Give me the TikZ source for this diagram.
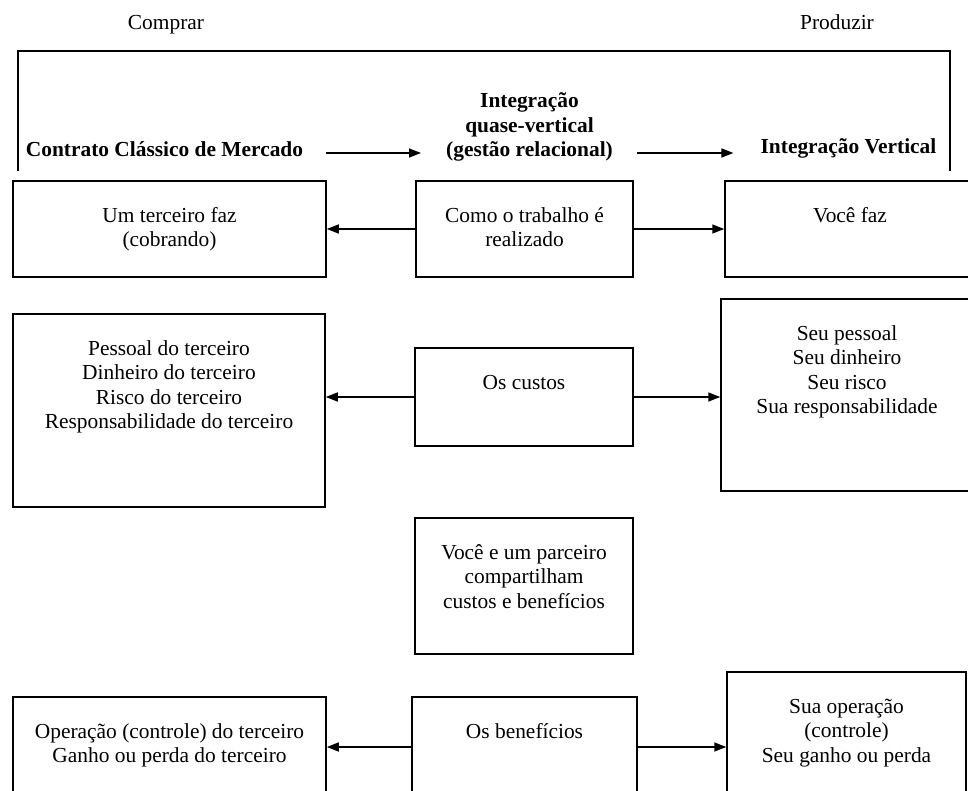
\documentclass[tikz,border=0pt]{standalone}
\usepackage{fontspec}
\setmainfont{Liberation Serif}
\usetikzlibrary{arrows.meta}
\begin{document}
\begin{tikzpicture}[x=1pt, y=-1pt,
    txt/.style={font=\fontsize{21.4}{24.5}\selectfont, align=center, inner sep=0pt, anchor=base},
    hd/.style={txt, font=\fontsize{21.4}{24.5}\selectfont\bfseries},
    box/.style={draw, line width=1.5pt, inner sep=0pt},
    arr/.style={line width=1.5pt, -{Triangle[length=12pt,width=9pt]}}]
    \useasboundingbox (0,0) rectangle (968,791);
    \clip (0,0) rectangle (968,791);
    % topo (base = ultima linha)
    \node[txt] (comprar) at (166,30) {Comprar};
    \node[txt] (produzir) at (837,30) {Produzir};
    \draw[line width=1.5pt] (18,171) -- (18,51) -- (950,51) -- (950,171);
    \node[hd] (contrato) at (164.5,157) {Contrato Clássico de Mercado};
    \node[hd] (quase) at (529.5,157) {Integração\\quase-vertical\\(gestão relacional)};
    \node[hd] (vertical) at (848.5,154) {Integração Vertical};
    \draw[arr] ([xshift=23pt,yshift=4pt]contrato.base east) -- ([xshift=-25pt,yshift=4pt]contrato.base east -| quase.west);
    \draw[arr] ([xshift=24pt,yshift=4pt]contrato.base east -| quase.east) -- ([xshift=-27pt,yshift=4pt]contrato.base east -| vertical.west);
    % como o trabalho e realizado
    \node[box, minimum width=313pt, minimum height=96pt] (terceiro) at (169.5,229) {};
    \node[box, minimum width=217pt, minimum height=96pt] (trabalho) at (524.5,229) {};
    \node[box, minimum width=250pt, minimum height=96pt] (voce) at (850,229) {};
    \node[txt] (terceirotxt) at ([yshift=-66.5pt]terceiro.north) {Um terceiro faz\\(cobrando)};
    \node[txt] (trabalhotxt) at ([yshift=-66.5pt]trabalho.north) {Como o trabalho é\\realizado};
    \node[txt] (vocetxt) at ([yshift=-42pt]voce.north) {Você faz};
    \draw[arr] (trabalho.west) -- (trabalho.west -| terceiro.east);
    \draw[arr] (trabalho.east) -- (trabalho.east -| voce.west);
    % os custos
    \node[box, minimum width=312pt, minimum height=193pt] (custoster) at (169,410.5) {};
    \node[box, minimum width=218pt, minimum height=98pt] (custos) at (524,397) {};
    \node[box, minimum width=252pt, minimum height=192pt] (custoseu) at (847,395) {};
    \node[txt] (custostertxt) at ([yshift=-115.5pt]custoster.north) {Pessoal do terceiro\\Dinheiro do terceiro\\Risco do terceiro\\Responsabilidade do terceiro};
    \node[txt] (custostxt) at ([yshift=-42pt]custos.north) {Os custos};
    \node[txt] (custoseutxt) at ([yshift=-115.5pt]custoseu.north) {Seu pessoal\\Seu dinheiro\\Seu risco\\Sua responsabilidade};
    \draw[arr] (custos.west) -- (custos.west -| custoster.east);
    \draw[arr] (custos.east) -- (custos.east -| custoseu.west);
    % parceria
    \node[box, minimum width=218pt, minimum height=136pt] (parceiro) at (524,586) {};
    \node[txt] (parceirotxt) at ([yshift=-91pt]parceiro.north) {Você e um parceiro\\compartilham\\custos e benefícios};
    % os beneficios
    \node[box, minimum width=313pt, minimum height=100pt] (benefter) at (169.5,747) {};
    \node[box, minimum width=225pt, minimum height=100pt] (benef) at (524.5,747) {};
    \node[box, minimum width=239pt, minimum height=150pt] (benefseu) at (846.5,747) {};
    \node[txt] (beneftertxt) at ([yshift=-66.5pt]benefter.north) {Operação (controle) do terceiro\\Ganho ou perda do terceiro};
    \node[txt] (beneftxt) at ([yshift=-42pt]benef.north) {Os benefícios};
    \node[txt] (benefseutxt) at ([yshift=-91pt]benefseu.north) {Sua operação\\(controle)\\Seu ganho ou perda};
    \draw[arr] (benef.west) -- (benef.west -| benefter.east);
    \draw[arr] (benef.east) -- (benef.east -| benefseu.west);
\end{tikzpicture}
\end{document}
